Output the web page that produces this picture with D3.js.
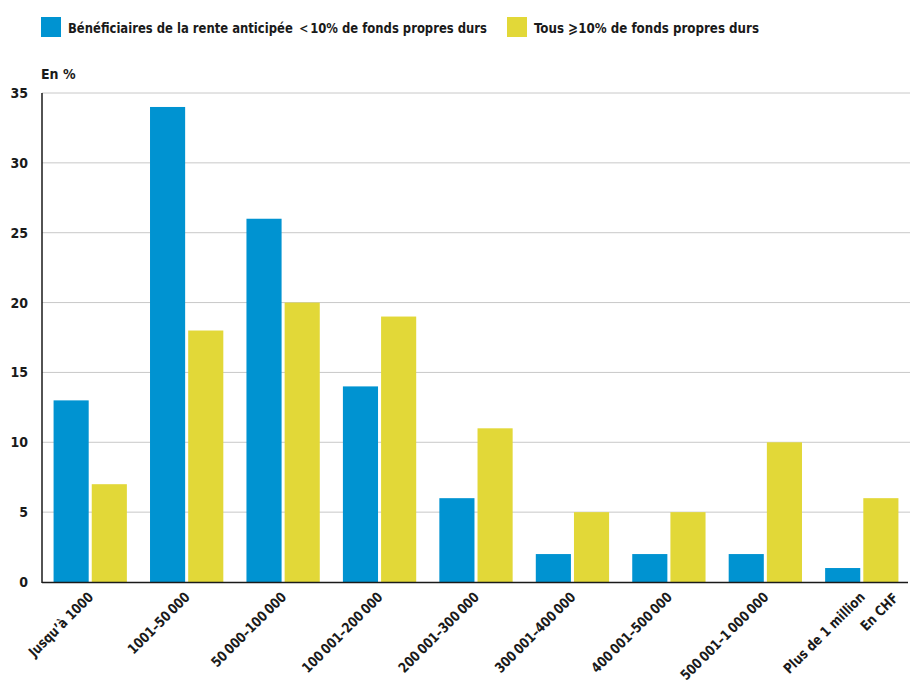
<!DOCTYPE html>
<html><head><meta charset="utf-8">
<script src="https://cdn.jsdelivr.net/npm/d3@7"></script>
<style>
body{margin:0;background:#fff;}
text{font-family:"Liberation Sans Narrow","DejaVu Sans Condensed","Noto Sans",sans-serif;font-weight:bold;fill:#1a1a1a;}
</style></head>
<body><svg id="c" width="910" height="691"></svg>
<script>
const categories = ["Jusqu\u2019à 1000","1001–50\u2009000","50\u2009000–100\u2009000","100\u2009001–200\u2009000","200\u2009001–300\u2009000","300\u2009001–400\u2009000","400\u2009001–500\u2009000","500\u2009001–1\u2009000\u2009000","Plus de 1 million"];
const seriesNames = ["Bénéficiaires de la rente anticipée \uFF1C10% de fonds propres durs","Tous \u2A7E10% de fonds propres durs"];
const blueValues = [13,34,26,14,6,2,2,2,1];
const yellowValues = [7,18,20,19,11,5,5,10,6];
const yTicks = [0,5,10,15,20,25,30,35];
const colors = ["#0093d1","#e2d838"];

const svg = d3.select("#c");
const x0 = d3.scaleBand().domain(categories).range([42,910]).paddingInner(0.24).paddingOuter(0.12);
const x1 = d3.scaleBand().domain([0,1]).range([0,x0.bandwidth()]).paddingInner(0.08);
const y = d3.scaleLinear().domain([0,35]).range([582,93]);

// grid
svg.append("g").selectAll("line").data(yTicks.filter(d=>d>0)).join("line")
  .attr("x1",42).attr("x2",910).attr("y1",d=>y(d)).attr("y2",d=>y(d))
  .attr("stroke","#c8c8c8").attr("stroke-width",1);

// y tick labels
svg.append("g").selectAll("text").data(yTicks).join("text")
  .attr("x",28).attr("y",d=>y(d)+5).attr("text-anchor","end")
  .attr("font-size",14).text(d=>d);

svg.append("text").attr("x",41).attr("y",79).attr("font-size",14).text("En %");

// bars
const series = [blueValues, yellowValues];
series.forEach((vals,si)=>{
  svg.append("g").selectAll("rect").data(vals).join("rect")
    .attr("x",(d,i)=>x0(categories[i])+x1(si))
    .attr("width",x1.bandwidth())
    .attr("y",d=>y(d)).attr("height",d=>y(0)-y(d))
    .attr("fill",colors[si]);
});

// axes lines
svg.append("line").attr("x1",42).attr("x2",42).attr("y1",93).attr("y2",583).attr("stroke","#1a1a1a").attr("stroke-width",1.5);
svg.append("line").attr("x1",42).attr("x2",908).attr("y1",582.5).attr("y2",582.5).attr("stroke","#1a1a1a").attr("stroke-width",1.5);

// x labels
function condense(sel, f){
  sel.each(function(){ const w=this.getComputedTextLength(); d3.select(this).attr("textLength",w*f).attr("lengthAdjust","spacingAndGlyphs"); });
}
svg.append("g").selectAll("text").data(categories).join("text")
  .attr("transform",d=>`translate(${x0(d)+x0.bandwidth()/2+4},${598}) rotate(-45)`)
  .attr("text-anchor","end").attr("font-size",14).text(d=>d).call(condense,0.92);
svg.append("text").attr("transform",`translate(${899},${599}) rotate(-45)`)
  .attr("text-anchor","end").attr("font-size",14).text("En CHF").call(condense,0.92);

// legend
const lx = [41,507];
const lw = [419,225];
seriesNames.forEach((n,i)=>{
  svg.append("rect").attr("x",lx[i]).attr("y",17).attr("width",20).attr("height",20).attr("fill",colors[i]);
  svg.append("text").attr("x",lx[i]+27).attr("y",33).attr("font-size",14.5)
    .attr("textLength",lw[i]).attr("lengthAdjust","spacingAndGlyphs").text(n);
});
</script></body></html>
